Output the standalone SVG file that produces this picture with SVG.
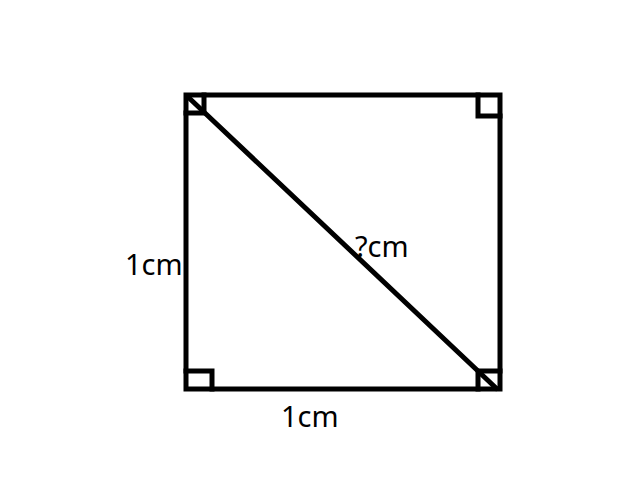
<svg xmlns="http://www.w3.org/2000/svg" width="640" height="480" viewBox="0 0 640 480">
<style>
.s{fill:none;stroke:#000;stroke-width:5;stroke-linecap:square}
.t{font-family:"Noto Sans","Open Sans",sans-serif;font-size:29px;fill:#000}
</style>
<rect width="640" height="480" fill="#fff"/>
<g id="square">
<rect class="s" x="186" y="95" width="314" height="294"/>
</g>
<g id="markers">
<polyline class="s" points="186,113 204,113 204,95"/>
<polyline class="s" points="478,95 478,116 500,116"/>
<polyline class="s" points="186,371 212,371 212,389"/>
<polyline class="s" points="478,389 478,371 500,371"/>
</g>
<g id="connectors">
<line class="s" x1="188" y1="97" x2="496" y2="388"/>
</g>
<g id="labels">
<text class="t" x="125" y="275">1cm</text>
<text class="t" x="355" y="257">?cm</text>
<text class="t" x="281" y="427">1cm</text>
</g>
</svg>
